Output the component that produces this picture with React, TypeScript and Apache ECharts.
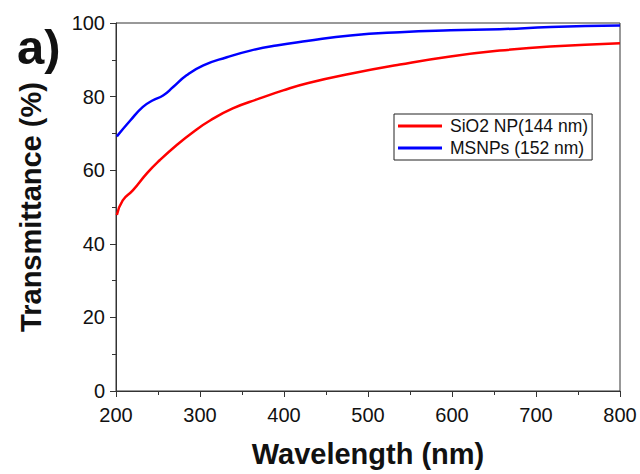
import React, { useEffect, useRef } from "react";
import * as echarts from "echarts";

const wavelengthSiO2 = [201, 208, 220, 237, 252, 272, 292, 312, 339, 371, 399, 429, 479, 538, 598, 657, 717, 800];
const transSiO2 = [47.8, 51.8, 54.5, 59.2, 62.7, 66.8, 70.4, 73.5, 76.8, 79.5, 81.7, 83.7, 86.2, 88.7, 90.9, 92.5, 93.6, 94.5];

const wavelengthMSN = [201, 217, 232, 244, 256, 268, 284, 304, 332, 360, 391, 427, 479, 538, 598, 657, 717, 800];
const transMSN = [69.2, 73.5, 77.2, 79.0, 80.3, 82.6, 85.8, 88.5, 90.7, 92.5, 93.9, 95.1, 96.6, 97.5, 98.0, 98.3, 98.9, 99.3];

const seriesNames = ["SiO2 NP(144 nm)", "MSNPs (152 nm)"];
const xTicks = [200, 300, 400, 500, 600, 700, 800];
const yTicks = [0, 20, 40, 60, 80, 100];

export default function App() {
  const ref = useRef<HTMLDivElement>(null);
  useEffect(() => {
    if (!ref.current) return;
    const chart = echarts.init(ref.current, undefined, { renderer: "svg" });
    const axisColor = "#333";
    const font = "Liberation Sans, Arial, sans-serif";
    chart.setOption({
      animation: false,
      backgroundColor: "#fff",
      grid: {
        left: 116,
        right: 20,
        top: 23,
        bottom: 83,
        show: true,
        borderColor: axisColor,
        borderWidth: 1,
      },
      xAxis: {
        type: "value",
        min: xTicks[0],
        max: xTicks[xTicks.length - 1],
        interval: 100,
        name: "Wavelength (nm)",
        nameLocation: "middle",
        nameGap: 48,
        nameTextStyle: { fontFamily: font, fontWeight: "bold", fontSize: 29, color: "#111" },
        axisLine: { lineStyle: { color: axisColor, width: 1 } },
        axisTick: { inside: false, length: 6, lineStyle: { color: axisColor } },
        minorTick: { show: true, splitNumber: 2, length: 4, lineStyle: { color: axisColor } },
        axisLabel: { fontFamily: font, fontSize: 20, color: "#111", margin: 14 },
        splitLine: { show: false },
      },
      yAxis: {
        type: "value",
        min: yTicks[0],
        max: yTicks[yTicks.length - 1],
        interval: 20,
        name: "Transmittance (%)",
        nameLocation: "middle",
        nameGap: 71,
        nameTextStyle: { fontFamily: font, fontWeight: "bold", fontSize: 29, color: "#111" },
        axisLine: { show: true, lineStyle: { color: axisColor, width: 1 } },
        axisTick: { show: true, inside: false, length: 6, lineStyle: { color: axisColor } },
        minorTick: { show: true, splitNumber: 2, length: 4, lineStyle: { color: axisColor } },
        axisLabel: { fontFamily: font, fontSize: 20, color: "#111", margin: 11 },
        splitLine: { show: false },
      },
      legend: {
        orient: "vertical",
        left: 394,
        top: 114,
        borderColor: "#222",
        borderWidth: 1,
        padding: [3, 4, 3, 4],
        itemGap: 4,
        itemWidth: 44,
        itemHeight: 3,
        icon: "rect",
        textStyle: { fontFamily: font, fontSize: 17.5, color: "#111", padding: [0, 0, 0, 3] },
        data: seriesNames,
      },
      graphic: [
        {
          type: "text",
          left: 17,
          top: 22,
          style: { text: "a)", fontFamily: font, fontWeight: "bold", fontSize: 49, fill: "#111" },
        },
      ],
      series: [
        {
          name: seriesNames[0],
          type: "line",
          smooth: true,
          showSymbol: false,
          symbol: "none",
          color: "#ff0000",
          lineStyle: { color: "#ff0000", width: 2.5 },
          data: wavelengthSiO2.map((x, i) => [x, transSiO2[i]]),
        },
        {
          name: seriesNames[1],
          type: "line",
          smooth: true,
          showSymbol: false,
          symbol: "none",
          color: "#0000ff",
          lineStyle: { color: "#0000ff", width: 2.5 },
          data: wavelengthMSN.map((x, i) => [x, transMSN[i]]),
        },
      ],
    });
    return () => chart.dispose();
  }, []);
  return <div ref={ref} style={{ width: 640, height: 474, position: "absolute", left: 0, top: 0 }} />;
}
